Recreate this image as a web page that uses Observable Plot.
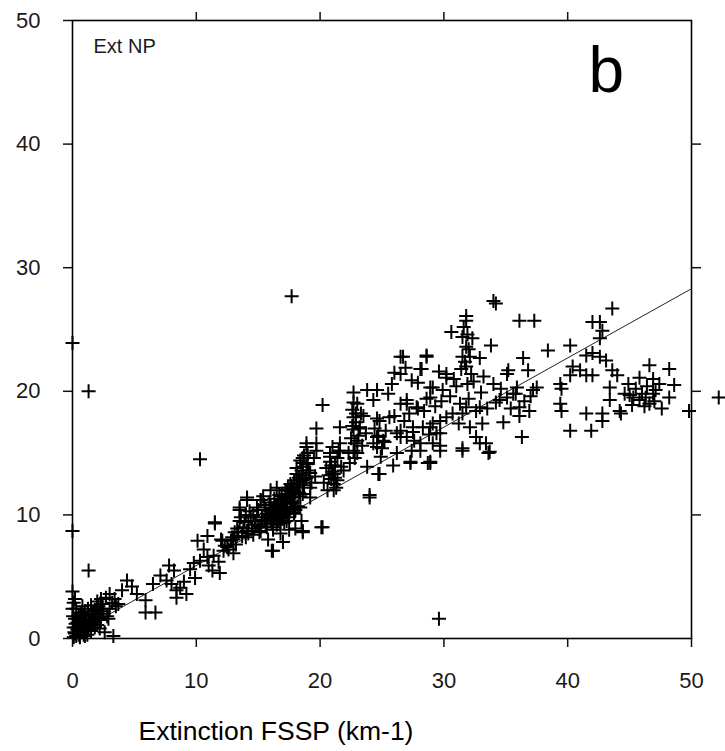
<!DOCTYPE html>
<html>
<head>
<meta charset="utf-8">
<script src="https://cdn.jsdelivr.net/npm/d3@7"></script>
<script src="https://cdn.jsdelivr.net/npm/@observablehq/plot@0.6"></script>
<style>
  html, body { margin: 0; padding: 0; background: #fff; }
  #chart svg { display: block; }
</style>
</head>
<body>
<div id="chart"></div>
<script>
// ---- data ----
const xTicks = [0, 10, 20, 30, 40, 50];
const yTicks = [0, 10, 20, 30, 40, 50];
const innerTicks = [10, 20, 30, 40];

const xLabel = "Extinction FSSP (km-1)";
const panelTag = "Ext NP";
const panelLetter = "b";

// regression line end points [FSSP, NP]
const fitLine = [[0, 0.3], [50, 28.3]];

// points: [Extinction FSSP, Extinction NP]
const outliers = [
  [0, 23.9], [0, 8.7], [0, 3.8], [0, 2.4], [1.3, 20.0], [1.3, 5.5], [17.7, 27.7],
  [10.3, 14.5], [29.6, 1.6], [49.8, 18.4], [52.2, 19.5]
];
const originCluster = [
  [0.1, 0.1], [0.2, 0.4], [0.3, 0.2], [0.4, 0.7], [0.5, 0.3], [0.6, 1.0], [0.7, 0.5], [0.8, 1.3],
  [0.9, 0.8], [1.0, 0.2], [1.1, 1.5], [1.2, 0.9], [1.3, 1.8], [1.4, 1.2], [1.5, 0.6], [1.6, 2.0],
  [1.7, 1.4], [1.8, 2.3], [1.9, 1.7], [2.0, 1.1], [2.1, 2.6], [2.2, 2.0], [2.3, 1.5], [2.4, 2.8],
  [2.5, 2.2], [2.6, 0.5], [2.8, 1.8], [3.0, 2.4], [3.2, 2.9], [3.4, 3.2], [0.2, 1.6], [0.3, 2.4],
  [0.5, 1.9], [0.1, 0.9], [0.6, 0.1], [0.9, 0.3], [1.2, 0.3], [0.4, 1.3], [1.0, 2.2], [1.5, 2.7],
  [2.0, 3.0], [2.7, 3.3], [0.8, 2.6], [1.3, 0.7], [1.8, 0.9], [0.2, 3.2], [0.7, 1.6], [2.2, 0.8],
  [2.9, 1.6], [3.5, 2.6], [3.3, 0.2],
  [0.15, 0.5], [0.35, 0.9], [0.55, 0.6], [0.75, 1.1], [0.95, 1.4], [1.15, 1.0], [1.35, 1.4], [1.55, 1.8],
  [1.75, 2.0], [1.95, 2.2], [2.15, 1.7], [2.35, 2.4], [0.25, 1.2], [0.45, 1.6], [0.65, 2.1], [0.85, 1.9],
  [1.05, 0.6], [1.25, 2.4], [0.05, 1.8], [0.1, 2.9]
];
const lowBand = [
  [4.4, 4.7], [4.0, 3.9], [3.7, 2.8], [5.9, 3.1], [5.9, 2.1], [6.7, 2.1], [2.3, 3.2], [2.0, 2.5],
  [7.1, 5.1], [7.6, 4.7], [8.2, 5.5], [8.4, 3.9], [8.4, 3.3], [9.2, 3.6], [8.7, 4.1], [10.1, 7.9],
  [10.9, 8.3], [11.5, 9.3], [10.3, 6.3], [9.8, 6.1], [10.9, 6.6], [11.4, 6.7], [11.9, 5.3], [11.3, 5.5],
  [12.5, 7.4], [13.0, 6.9], [12.2, 7.1], [13.5, 9.5], [14.1, 11.2], [13.5, 10.4], [14.1, 8.7], [15.2, 11.2],
  [15.2, 8.7], [16.2, 7.1], [15.7, 9.8], [16.5, 10.6], [17.3, 12.0], [16.8, 9.3], [17.9, 10.1], [17.9, 12.8],
  [18.1, 13.8], [3.0, 3.6], [4.8, 4.2], [7.8, 5.9], [9.0, 4.6], [9.5, 5.6], [10.6, 7.2], [11.0, 5.9],
  [12.0, 8.0], [12.8, 7.9], [11.8, 6.2], [9.9, 4.9], [8.0, 4.4], [6.5, 4.4], [5.2, 3.6], [11.5, 9.4]
];
const midCluster = [
  [13.0, 8.0], [13.4, 8.6], [13.8, 9.0], [14.0, 8.2], [14.2, 9.5], [14.5, 8.9], [14.6, 10.0], [14.8, 9.2],
  [15.0, 10.4], [15.1, 8.6], [15.3, 9.8], [15.5, 10.8], [15.6, 9.3], [15.8, 10.1], [15.9, 11.0], [16.0, 9.6],
  [16.1, 10.5], [16.2, 8.8], [16.3, 11.3], [16.4, 10.0], [16.5, 9.2], [16.6, 10.8], [16.7, 11.6], [16.8, 9.9],
  [16.9, 10.4], [17.0, 11.1], [17.1, 9.4], [17.2, 12.0], [17.3, 10.6], [17.4, 11.4], [17.5, 9.8], [17.6, 10.9],
  [17.7, 12.3], [17.8, 11.0], [17.9, 10.2], [18.0, 11.8], [18.1, 12.6], [18.2, 10.7], [18.3, 13.0], [18.4, 11.5],
  [15.4, 11.5], [14.9, 10.6], [16.0, 12.0], [15.2, 9.0], [14.3, 10.3], [13.6, 9.8], [17.5, 8.8], [16.8, 8.5],
  [18.5, 9.5], [18.0, 8.9], [17.0, 7.8], [15.8, 8.0], [14.1, 11.4], [15.2, 11.2], [13.5, 10.6], [16.8, 10.9],
  [15.7, 10.1], [16.2, 9.0], [17.3, 9.5], [18.6, 8.7], [20.2, 9.0], [18.6, 8.6], [16.1, 7.1], [18.4, 10.6],
  [15.5, 9.5], [15.7, 9.0], [15.9, 9.9], [16.0, 10.3], [16.1, 9.3], [16.3, 9.7], [16.4, 10.7], [16.5, 10.2],
  [16.6, 9.6], [16.7, 10.0], [16.8, 11.2], [16.9, 9.7], [17.0, 10.6], [17.1, 10.1], [17.2, 11.0], [17.3, 11.3],
  [17.4, 10.2], [17.5, 11.7], [17.6, 10.5], [17.7, 11.1], [17.8, 10.6], [17.9, 11.4], [18.0, 10.4], [16.3, 10.3],
  [16.6, 11.0], [17.2, 10.4], [17.6, 11.9], [16.0, 10.8], [15.6, 10.4], [16.9, 11.5], [17.4, 12.2], [17.8, 12.0],
  [12.3, 7.5], [12.6, 7.2], [12.9, 8.2], [13.2, 7.6], [13.3, 8.9], [13.7, 8.3], [13.9, 9.4], [14.2, 8.5],
  [14.4, 9.8], [14.7, 9.5], [15.0, 9.1], [15.3, 9.6], [12.1, 7.9], [13.1, 8.6], [14.0, 10.0], [14.6, 8.4]
];
const stepClusters = [
  [18.2, 12.2], [18.4, 12.8], [18.5, 13.6], [18.7, 12.4], [18.9, 13.0], [19.0, 14.2], [19.2, 13.4], [19.3, 12.6],
  [19.5, 14.6], [18.3, 11.8], [19.6, 13.1], [18.6, 14.6],
  [20.3, 12.6], [20.5, 13.8], [20.6, 12.0], [20.8, 14.3], [21.0, 13.5], [21.2, 14.0], [21.4, 12.8], [21.5, 15.2],
  [21.7, 13.9], [20.9, 12.9],
  [22.3, 15.0], [22.5, 16.2], [22.6, 17.2], [22.8, 14.6], [23.0, 16.0], [23.2, 17.0], [23.4, 15.6], [23.5, 18.0],
  [22.9, 18.2], [23.7, 16.6]
];
const upperBand = [
  [26.5, 22.8], [26.5, 21.4], [28.6, 22.9], [28.1, 21.8], [27.9, 20.7], [28.9, 20.3], [20.2, 18.9], [22.7, 19.9],
  [23.8, 20.1], [24.6, 20.1], [25.5, 19.8], [22.7, 19.1], [24.3, 19.3], [27.0, 19.3], [27.9, 18.6], [28.6, 19.4],
  [19.7, 17.0], [21.6, 17.1], [22.7, 17.9], [23.2, 17.1], [24.8, 17.6], [25.6, 17.9], [26.5, 16.8], [27.5, 17.1],
  [28.9, 17.1], [29.4, 16.6], [18.9, 15.5], [19.7, 15.8], [20.8, 15.0], [21.6, 15.2], [22.7, 15.2], [24.3, 15.8],
  [25.1, 16.0], [26.2, 15.0], [27.3, 14.2], [28.7, 14.2], [25.9, 14.0], [24.8, 13.3], [23.8, 13.9], [21.9, 13.6],
  [21.1, 12.5], [21.1, 12.0], [18.6, 13.9], [18.4, 14.4], [18.1, 13.3], [19.2, 12.2], [18.6, 11.7], [17.3, 11.7],
  [16.5, 12.2], [17.6, 12.5], [24.0, 11.6], [20.1, 9.0],
  [36.3, 16.3], [33.6, 15.0], [32.9, 15.8], [31.5, 15.4], [29.7, 15.6], [28.9, 14.2], [24.7, 13.3], [24.0, 11.4],
  [20.8, 14.7], [18.6, 14.2], [18.9, 15.8], [19.7, 15.2], [21.6, 15.8], [23.0, 15.0], [24.6, 15.5], [24.6, 16.3],
  [26.5, 16.3], [28.1, 15.2], [29.7, 16.6], [18.6, 12.8], [21.1, 13.3], [22.4, 14.2], [19.2, 11.4],
  [18.7, 14.8], [18.9, 14.1], [19.1, 13.6], [18.5, 13.2], [19.0, 15.0], [18.8, 12.9],
  [20.9, 14.0], [21.2, 13.0], [21.4, 14.6], [21.0, 15.5], [21.3, 12.2], [20.7, 13.2],
  [22.6, 18.5], [22.9, 17.5], [23.1, 16.4], [22.8, 15.8], [23.3, 18.2], [22.7, 16.9], [23.0, 19.0],
  [24.4, 17.0], [24.7, 16.4], [25.0, 15.4], [24.9, 14.7], [25.3, 16.8], [24.6, 17.8], [25.2, 15.9]
];
const highBand = [
  [34.0, 27.3], [34.2, 27.1], [36.1, 25.7], [37.3, 25.7], [43.6, 26.7], [42.0, 25.6], [42.6, 25.6], [42.8, 24.9],
  [42.6, 24.3], [40.2, 23.7], [38.4, 23.3], [31.8, 26.1], [31.8, 25.7], [30.6, 24.8], [31.5, 24.4], [32.3, 24.3],
  [33.8, 23.7], [31.8, 23.6], [31.5, 22.8], [32.1, 22.8], [32.9, 22.7], [28.6, 22.8], [26.7, 22.8], [28.2, 21.8],
  [30.2, 21.4], [31.8, 22.0], [36.4, 22.7], [36.8, 21.7], [35.2, 21.7], [41.5, 22.9], [42.0, 23.1], [42.6, 22.8],
  [43.1, 22.5], [43.6, 21.7], [44.0, 21.3], [40.4, 22.0], [41.0, 21.7], [41.5, 21.3], [42.0, 21.3], [40.2, 21.3],
  [39.4, 20.6], [39.5, 20.2], [37.5, 20.3], [37.2, 20.1], [35.9, 20.3], [35.6, 19.8], [35.1, 19.5], [34.5, 19.3],
  [36.1, 18.7], [36.1, 18.0], [34.8, 17.5], [34.2, 19.1], [34.0, 20.6], [35.1, 21.4], [32.9, 18.7], [32.6, 18.4],
  [31.8, 18.7], [31.5, 18.2], [31.3, 19.0], [30.7, 18.2], [30.2, 17.9], [29.7, 17.6], [29.1, 17.4], [28.3, 17.1],
  [27.5, 16.7], [27.0, 16.3], [28.1, 15.8], [29.1, 15.8], [29.7, 15.2], [31.5, 15.2], [32.6, 16.3], [33.4, 15.8],
  [33.7, 15.1], [32.1, 17.1], [33.1, 17.4], [27.3, 14.3], [28.9, 14.3], [27.0, 19.0], [27.8, 18.7], [28.9, 19.5],
  [29.9, 20.1], [29.1, 20.3], [26.5, 19.0], [30.2, 21.1],
  [26.2, 16.6], [26.8, 17.6], [27.2, 18.2], [27.6, 16.0], [28.4, 18.4], [28.8, 16.5], [29.3, 18.8], [29.8, 19.2],
  [26.0, 18.0], [27.4, 15.2], [30.5, 19.6], [31.0, 20.4], [31.2, 17.4], [32.0, 19.4], [32.4, 20.8], [33.0, 19.9],
  [33.5, 18.6], [30.8, 21.0], [33.2, 21.2], [34.6, 20.2], [35.4, 18.6], [36.5, 19.2], [37.0, 19.6], [35.8, 19.8],
  [36.9, 18.4], [31.6, 25.2], [31.9, 24.6], [32.0, 23.4], [31.7, 22.4], [32.2, 21.4], [31.4, 21.8], [31.9, 20.6],
  [26.0, 21.5], [25.8, 20.6], [27.4, 20.9], [26.9, 21.9], [29.6, 21.6]
];
const rightCluster = [
  [39.4, 19.0], [39.5, 18.4], [40.2, 16.8], [41.5, 18.2], [41.9, 16.8], [42.8, 18.2], [42.8, 17.6], [43.4, 19.3],
  [44.2, 18.4], [44.3, 18.2], [45.0, 19.7], [45.3, 19.5], [45.8, 19.3], [46.3, 19.5], [46.9, 19.8], [47.1, 20.1],
  [46.6, 19.0], [47.6, 18.6], [48.2, 19.5], [48.6, 20.5], [47.4, 20.6], [46.9, 21.0], [45.8, 21.1], [46.6, 22.1],
  [48.2, 21.8], [43.4, 20.3], [44.6, 19.8], [45.5, 20.2], [46.0, 19.8], [46.4, 20.4], [47.0, 19.2], [45.2, 18.9],
  [44.9, 20.6], [46.2, 18.8]
];

const points = [...outliers, ...originCluster, ...lowBand, ...midCluster, ...stepClusters, ...upperBand, ...highBand, ...rightCluster]
  .map(([fssp, np]) => ({fssp, np}));
const fit = fitLine.map(([fssp, np]) => ({fssp, np}));

// plus-shaped marker drawn with strokes
const plusSymbol = {
  draw(context, size) {
    const r = Math.sqrt(size / Math.PI);
    context.moveTo(-r, 0); context.lineTo(r, 0);
    context.moveTo(0, -r); context.lineTo(0, r);
  }
};

const tickFont = "'Liberation Sans Narrow', 'Arial Narrow', 'Liberation Sans', sans-serif";

const chart = Plot.plot({
  width: 725,
  height: 751,
  marginLeft: 72,
  marginRight: 34,
  marginTop: 20,
  marginBottom: 113,
  style: {background: "#fff", color: "#111"},
  x: {domain: [0, 50]},
  y: {domain: [0, 50]},
  marks: [
    Plot.frame({stroke: "#000", strokeWidth: 1.6}),
    Plot.axisX(xTicks, {anchor: "bottom", tickSize: 9, tickPadding: 25, strokeWidth: 1.5, label: null,
      fontSize: 22, fontFamily: tickFont, fill: "#1a1a1a"}),
    Plot.axisX(innerTicks, {anchor: "top", tickSize: 9, strokeWidth: 1.5, label: null, tickFormat: () => ""}),
    Plot.axisY(yTicks, {anchor: "left", tickSize: 9, tickPadding: 23, strokeWidth: 1.5, label: null,
      fontSize: 22, fontFamily: tickFont, fill: "#1a1a1a"}),
    Plot.axisY(innerTicks, {anchor: "right", tickSize: 9, strokeWidth: 1.5, label: null, tickFormat: () => ""}),
    Plot.line(fit, {x: "fssp", y: "np", stroke: "#222", strokeWidth: 1}),
    Plot.dot(points, {x: "fssp", y: "np", symbol: plusSymbol, r: 7, stroke: "#000", fill: "none", strokeWidth: 2}),
    Plot.text([panelTag], {frameAnchor: "top-left", dx: 21, dy: 18, text: d => d, textAnchor: "start", lineAnchor: "top",
      fontSize: 20, fontFamily: tickFont, fill: "#1a1a1a"}),
    Plot.text([panelLetter], {frameAnchor: "top-right", dx: -103, dy: 26, text: d => d, textAnchor: "start", lineAnchor: "top",
      fontSize: 64, fontFamily: "'Liberation Sans', Arial, sans-serif", fill: "#000"}),
    Plot.text([xLabel], {frameAnchor: "bottom", dx: -106, dy: 101, text: d => d, textAnchor: "middle", lineAnchor: "bottom",
      fontSize: 26.5, fontFamily: "'Liberation Sans', Arial, sans-serif", fill: "#000"})
  ]
});
document.getElementById("chart").appendChild(chart);
</script>
</body>
</html>
